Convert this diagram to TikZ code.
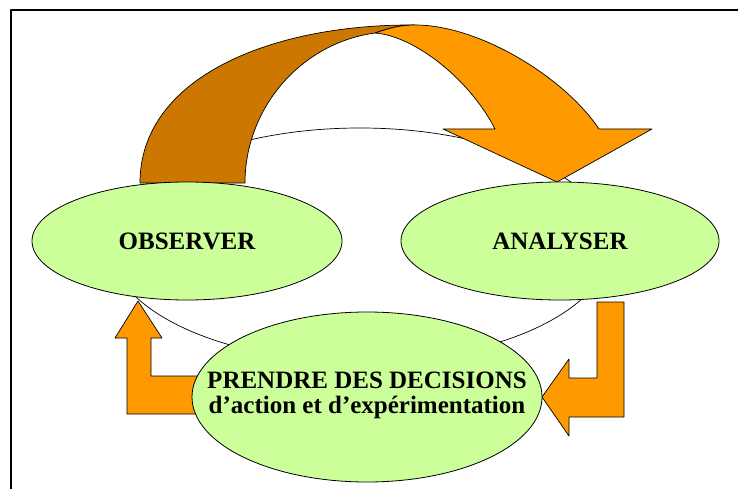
\documentclass[tikz,border=0pt]{standalone}
\usepackage{fontspec}
\setmainfont{Liberation Serif}
\usetikzlibrary{shapes.geometric}
\definecolor{vertclair}{HTML}{CCFF99}
\definecolor{orangevif}{HTML}{FF9900}
\definecolor{brun}{HTML}{CC7700}

\begin{document}
\begin{tikzpicture}[x=1pt, y=-1pt, line cap=round, line join=round,
    etape/.style={ellipse, draw, line width=0.8pt, fill=vertclair, inner sep=0pt},
    texte/.style={inner sep=0pt, font=\fontsize{25}{25}\selectfont\bfseries, align=center},
    fleche/.style={draw, line width=0.7pt, fill=orangevif}]
  \useasboundingbox (0,0) rectangle (738,489);
  \draw[line width=1.5pt] (11,489) -- (11,10) -- (738,10);
  % cycle en fond
  \draw[line width=0.7pt] (360,245) ellipse [x radius=250pt, y radius=117pt];
  % grande fleche courbe : dos brun
  \draw[line width=0.7pt, fill=brun] (140,183) .. controls (140,78) and (270,24) .. (415,25)
    .. controls (400,25) and (390,28) .. (375,33)
    .. controls (301,43) and (245,108) .. (245,183) -- cycle;
  % face orange
  \draw[fleche] (375,33) .. controls (390,28) and (400,25) .. (415,25)
    .. controls (480,25) and (565,78) .. (599,129)
    -- (652,129) -- (557,182) -- (443,129) -- (495,129)
    .. controls (470,80) and (415,36) .. (375,33) -- cycle;
  % fleches coudees
  \draw[fleche] (597,302) -- (624,302) -- (624,417) -- (569,417) -- (569,436)
    -- (542,397) -- (569,359) -- (569,378) -- (597,378) -- cycle;
  \draw[fleche] (205,376) -- (151,376) -- (151,338) -- (162,338) -- (138,301)
    -- (115,338) -- (127,338) -- (127,414) -- (205,414) -- cycle;
  % les trois etapes
  \node[etape, minimum width=310pt, minimum height=118pt] (obs) at (187,241) {};
  \node[etape, minimum width=318pt, minimum height=118pt] (ana) at (560,241) {};
  \node[etape, minimum width=350pt, minimum height=170pt] (dec) at (367,397) {};
  \node[texte] (obstxt) at (obs) {OBSERVER};
  \node[texte] (anatxt) at (ana) {ANALYSER};
  \node[texte] (dectxt) at ([yshift=2pt]dec.center)
    {PRENDRE DES DECISIONS\\d’action et d’expérimentation};
\end{tikzpicture}
\end{document}
